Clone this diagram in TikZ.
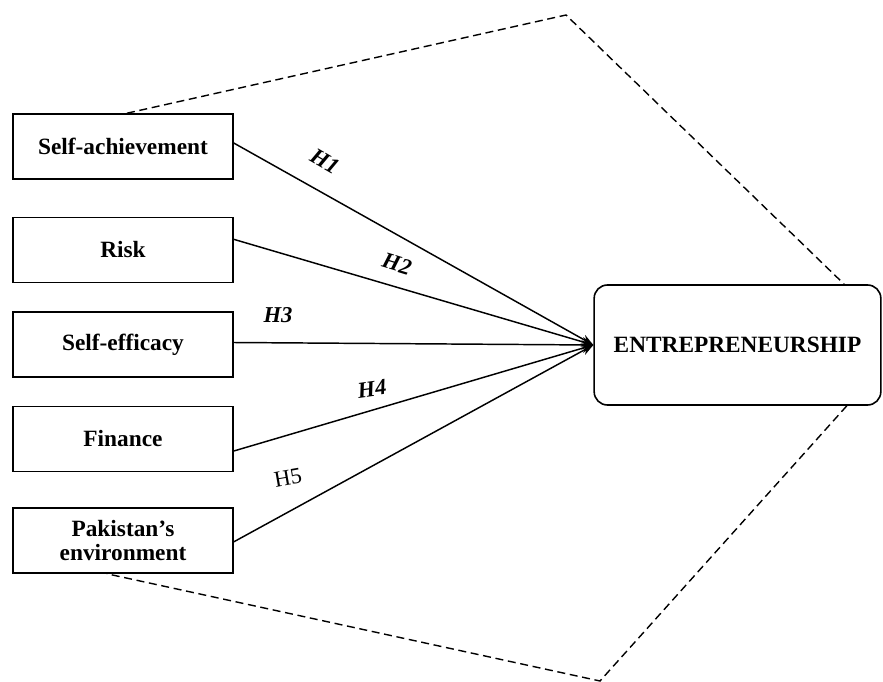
\documentclass[tikz,border=0pt]{standalone}
\usepackage{fontspec}
\setmainfont{Liberation Serif}
\usetikzlibrary{arrows.meta}
\begin{document}
\begin{tikzpicture}[x=0.75pt,y=-0.75pt,
  varbox/.style={draw,line width=1.2pt,minimum width=165pt,minimum height=48.75pt,align=center,font=\fontsize{17.5}{18.5}\selectfont\bfseries,inner sep=1pt},
  mainbox/.style={draw,line width=1.2pt,rounded corners=10pt,minimum width=215pt,minimum height=90pt,font=\fontsize{17.5}{20}\selectfont\bfseries},
  link/.style={line width=1.1pt,-{Stealth[length=9pt,width=7pt]}},
  hlab/.style={font=\fontsize{17}{18}\selectfont\bfseries\itshape,inner sep=0pt},
  frame/.style={line width=1.05pt,dash pattern=on 6pt off 3.5pt}]
\useasboundingbox (0,0) rectangle (883,682);
\node[varbox] (b1) at (123,146.5) {Self-achievement};
\node[varbox] (b2) at (123,250) {Risk};
\node[varbox] (b3) at (123,344.5) {Self-efficacy};
\node[varbox] (b4) at (123,439) {Finance};
\node[varbox] (b5) at (123,540.5) {Pakistan’s\\environment};
\node[mainbox] (E) at (737.5,345) {ENTREPRENEURSHIP};
\draw[link] ([yshift=2.6pt]b1.east) -- (E.west);
\draw[link] ([yshift=8pt]b2.east) -- (E.west);
\draw[link] ([yshift=1.5pt]b3.east) -- (E.west);
\draw[link] ([yshift=-9pt]b4.east) -- (E.west);
\draw[link] ([yshift=-1pt]b5.east) -- (E.west);
\node[hlab,rotate=-30] (h1) at (325,161) {H1};
\node[hlab,rotate=-17] (h2) at (397,264) {H2};
\node[hlab] (h3) at (278,315) {H3};
\node[hlab,rotate=8] (h4) at (372,389) {H4};
\node[hlab,font=\fontsize{17}{18}\selectfont,rotate=10] (h5) at (288,478) {H5};
\coordinate (top) at (566,15);
\coordinate (bot) at (600,681);
\draw[frame] ([xshift=3pt]b1.north) -- (top) -- ([xshift=80pt]E.north);
\draw[frame] ([xshift=82pt]E.south) -- (bot) -- ([xshift=-12pt]b5.south);
\end{tikzpicture}
\end{document}
